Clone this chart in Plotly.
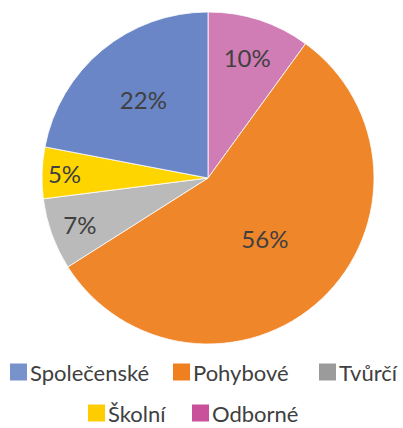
import plotly.graph_objects as go

# slice order, clockwise from 12 o'clock
categories = ["Odborné", "Pohybové", "Tvůrčí", "Školní", "Společenské"]
values = [10, 56, 7, 5, 22]
slice_colors = ["#d07db5", "#f0862a", "#b9bab9", "#ffd500", "#6a86c6"]

# legend order as shown in the reference (two rows)
legend_row1 = ["Společenské", "Pohybové", "Tvůrčí"]
legend_row2 = ["Školní", "Odborné"]
legend_colors = {"Společenské": "#7892cb", "Pohybové": "#ef7f1f", "Tvůrčí": "#9b9b9b",
                 "Školní": "#ffcc00", "Odborné": "#c9509a"}

FONT = "Lato"
TEXT = "#404040"
W, H = 403, 428

fig = go.Figure()
fig.add_trace(go.Pie(
    labels=categories, values=values, sort=False, direction="clockwise", rotation=0,
    marker=dict(colors=slice_colors, line=dict(color="white", width=0.8)),
    texttemplate="%{percent:.0%}", textposition="inside", insidetextorientation="horizontal",
    textfont=dict(family=FONT, size=24, color=TEXT),
    showlegend=False, hoverinfo="label+percent",
    domain=dict(x=[(208 - 168) / W, (208 + 168) / W], y=[1 - (178 + 166) / H, 1 - (178 - 166) / H]),
))

# legend drawn as squares + text (layout positions only)
shapes, annotations = [], []
row_layout = [
    (legend_row1, 372, [10, 173, 319]),
    (legend_row2, 413, [88, 192]),
]
for names, yc, xs in row_layout:
    for name, x0 in zip(names, xs):
        shapes.append(dict(type="rect", xref="paper", yref="paper",
                           x0=x0 / W, x1=(x0 + 17) / W,
                           y0=1 - (yc + 8.5) / H, y1=1 - (yc - 8.5) / H,
                           fillcolor=legend_colors[name], line=dict(width=0)))
        annotations.append(dict(text=name, xref="paper", yref="paper",
                                x=(x0 + 18) / W, y=1 - yc / H, xanchor="left", yanchor="middle",
                                showarrow=False, font=dict(family=FONT, size=22, color=TEXT)))

fig.update_layout(
    width=W, height=H, margin=dict(l=0, r=0, t=0, b=0, autoexpand=False),
    paper_bgcolor="white", plot_bgcolor="white",
    shapes=shapes, annotations=annotations,
    uniformtext=dict(minsize=24, mode="show"),
)
fig.write_html("out.html", config={"displayModeBar": False},
               post_script="document.body.style.margin='0';")
